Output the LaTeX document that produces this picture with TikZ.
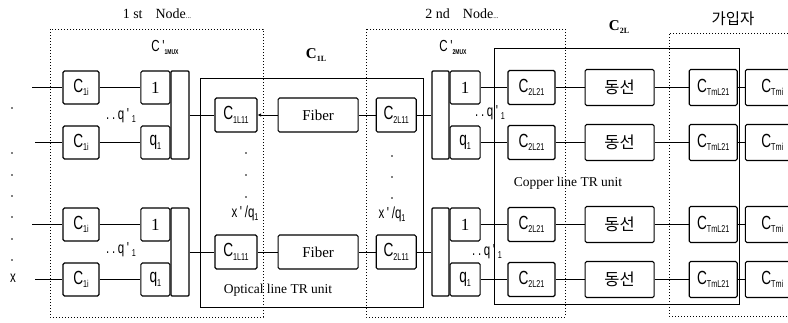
\documentclass[tikz,border=0pt]{standalone}
\usepackage{fontspec}
\setmainfont{Liberation Serif}
\newfontfamily\cfont[FakeStretch=0.72]{Liberation Sans}
\newfontfamily\krfont{Noto Sans CJK KR}
\usetikzlibrary{arrows.meta,positioning}
\newcommand{\idx}[2][10]{\raisebox{-0.35ex}{\fontsize{#1}{#1}\selectfont #2}}

\begin{document}
\begin{tikzpicture}[x=1pt,y=-1pt,
  box/.style={draw,rounded corners=1.5pt,line width=1.1pt,inner sep=0pt,minimum height=33pt,font=\fontsize{19}{19}\cfont},
  cbox/.style={box,minimum width=36pt},
  mbox/.style={box,minimum width=29pt},
  bar/.style={draw,rounded corners=1pt,line width=1.1pt,inner sep=0pt,minimum width=18pt,minimum height=88pt},
  obox/.style={box,minimum height=34pt},
  fbox/.style={box,minimum height=34pt,minimum width=80pt,font=\fontsize{15}{15}\rmfamily},
  kbox/.style={box,minimum height=34pt,minimum width=47pt},
  dbox/.style={box,minimum height=36pt,minimum width=69pt,font=\fontsize{16.5}{16.5}\krfont},
  tbox/.style={box,minimum height=36pt,minimum width=48pt},
  wire/.style={line width=1pt},
  tip/.style={wire,-{Latex[length=3.5pt,width=3.5pt]}},
  nodebox/.style={line width=0.9pt,dash pattern=on 0.9pt off 2.1pt},
  unit/.style={line width=0.9pt},
  lbl/.style={inner sep=0pt,font=\fontsize{14}{14}\rmfamily},
  slbl/.style={inner sep=0pt,font=\fontsize{16}{16}\cfont}]
\clip (0,0) rectangle (788,322);
\draw[nodebox] (50,29) rectangle (263,317);
\draw[nodebox] (366,29) rectangle (565,317);
\draw[nodebox] (800,33) -- (669,33) -- (669,316) -- (800,316);
\draw[unit] (200,78) rectangle (423,307);
\draw[unit] (494,48) rectangle (739,304);
\node[lbl] (first) at (157,14) {1 st\hspace{13pt}Node{\fontsize{7}{7}\selectfont...}};
\node[lbl] (second) at (462,14) {2 nd\hspace{13pt}Node{\fontsize{7}{7}\selectfont...}};
\node[lbl,font=\fontsize{15}{15}\bfseries] (cl1) at (316,55) {C\idx[8]{1L}};
\node[lbl,font=\fontsize{15}{15}\bfseries] (cl2) at (619,27) {C\idx[8]{2L}};
\node[lbl,font=\fontsize{15.5}{15.5}\krfont] (user) at (733,19) {가입자};
\node[slbl] (mux1) at (165,47) {C\,'\idx[7]{\textbf{1MUX}}};
\node[slbl] (mux2) at (453,47) {C\,'\idx[7]{\textbf{2MUX}}};
\node[lbl,font=\fontsize{13.5}{13.5}\rmfamily] (optical) at (278,290) {Optical line TR unit};
\node[lbl,font=\fontsize{13.5}{13.5}\rmfamily] (copper) at (568,183) {Copper line TR unit};
\coordinate (in1) at (32,87.5);
\coordinate (in2) at (35,142.5);
\coordinate (in3) at (32,224.5);
\coordinate (in4) at (35,279.5);
\node[slbl] (xin) at (13,278) {x};
\fill (12,108) circle (0.9) (12,153) circle (0.9) (12,175) circle (0.9) (12,196) circle (0.9)
  (12,217) circle (0.9) (12,239) circle (0.9) (12,260) circle (0.9);
\fill (246,153) circle (0.9) (246,175) circle (0.9) (246,197) circle (0.9);
\fill (392,156) circle (0.9) (392,177) circle (0.9) (392,198) circle (0.9);
\node[cbox] (cA1) at (81,87.5) {C\idx{1i}};
\node[cbox] (cA2) at (81,142.5) {C\idx{1i}};
\node[cbox] (cA3) at (81,224.5) {C\idx{1i}};
\node[cbox] (cA4) at (81,279.5) {C\idx{1i}};
\node[bar] (barA1) at (180,115) {};
\node[bar] (barA2) at (180,252) {};
\node[mbox,anchor=north east,font=\fontsize{17}{17}\rmfamily] (mA1) at (barA1.north west) {1};
\node[mbox,anchor=south east] (qA1) at (barA1.south west) {q\idx{1}};
\node[mbox,anchor=north east,font=\fontsize{17}{17}\rmfamily] (mA2) at (barA2.north west) {1};
\node[mbox,anchor=south east] (qA2) at (barA2.south west) {q\idx{1}};
\node[slbl] (qpA1) at (121,116) {.\,.\,q\,'\,\idx{1}};
\node[slbl] (qpA2) at (121,250) {.\,.\,q\,'\,\idx{1}};
\node[obox,minimum width=42pt] (oa1) at (236,115) {C\idx{1L11}};
\node[fbox,right=20pt of oa1] (fib1) {Fiber};
\node[obox,minimum width=40pt,right=17pt of fib1] (ob1) {C\idx{2L11}};
\node[obox,minimum width=42pt] (oa2) at (236,252) {C\idx{1L11}};
\node[fbox,right=20pt of oa2] (fib2) {Fiber};
\node[obox,minimum width=40pt,right=17pt of fib2] (ob2) {C\idx{2L11}};
\node[slbl] (xq1) at (245,213) {x\,'\,/q\idx{1}};
\node[slbl] (xq2) at (392,214) {x\,'\,/q\idx{1}};
\node[bar,minimum width=17pt] (barB1) at (440.5,115) {};
\node[bar,minimum width=17pt] (barB2) at (440.5,252) {};
\node[mbox,minimum width=30pt,anchor=north west,font=\fontsize{17}{17}\rmfamily] (mB1) at (barB1.north east) {1};
\node[mbox,minimum width=30pt,anchor=south west] (qB1) at (barB1.south east) {q\idx{1}};
\node[mbox,minimum width=30pt,anchor=north west,font=\fontsize{17}{17}\rmfamily] (mB2) at (barB2.north east) {1};
\node[mbox,minimum width=30pt,anchor=south west] (qB2) at (barB2.south east) {q\idx{1}};
\node[slbl] (qpB1) at (490,113) {.\,.\,q\,'\,\idx{1}};
\node[slbl] (qpB2) at (487,252) {.\,.\,q\,'\,\idx{1}};
\node[kbox] (cu1) at (531.5,87.5) {C\idx{2L21}};
\node[dbox,right=29pt of cu1] (dg1) {동선};
\node[tbox,right=34pt of dg1] (tl1) {C\idx{TmL21}};
\node[tbox,minimum width=54pt,right=7pt of tl1] (tm1) {C\idx{Tmi}};
\node[kbox] (cu2) at (531.5,142.5) {C\idx{2L21}};
\node[dbox,right=29pt of cu2] (dg2) {동선};
\node[tbox,right=34pt of dg2] (tl2) {C\idx{TmL21}};
\node[tbox,minimum width=54pt,right=7pt of tl2] (tm2) {C\idx{Tmi}};
\node[kbox] (cu3) at (531.5,224.5) {C\idx{2L21}};
\node[dbox,right=29pt of cu3] (dg3) {동선};
\node[tbox,right=34pt of dg3] (tl3) {C\idx{TmL21}};
\node[tbox,minimum width=54pt,right=7pt of tl3] (tm3) {C\idx{Tmi}};
\node[kbox] (cu4) at (531.5,279.5) {C\idx{2L21}};
\node[dbox,right=29pt of cu4] (dg4) {동선};
\node[tbox,right=34pt of dg4] (tl4) {C\idx{TmL21}};
\node[tbox,minimum width=54pt,right=7pt of tl4] (tm4) {C\idx{Tmi}};
\draw[wire] (in1) -- (cA1);
\draw[wire] (in2) -- (cA2);
\draw[wire] (in3) -- (cA3);
\draw[wire] (in4) -- (cA4);
\draw[wire] (cA1) -- (mA1);
\draw[wire] (cA2) -- (qA1);
\draw[wire] (cA3) -- (mA2);
\draw[wire] (cA4) -- (qA2);
\draw[wire] (barA1) -- (oa1);
\draw[wire] (barA2) -- (oa2);
\draw[tip] (fib1) -- (oa1);
\draw[wire] (fib2) -- (oa2);
\draw[wire] (fib1) -- (ob1);
\draw[wire] (fib2) -- (ob2);
\draw[wire] (ob1) -- (barB1);
\draw[wire] (ob2) -- (barB2);
\draw[wire] (mB1) -- (cu1);
\draw[wire] (qB1) -- (cu2);
\draw[wire] (mB2) -- (cu3);
\draw[wire] (qB2) -- (cu4);
\draw[wire] (cu1) -- (dg1);
\draw[wire] (cu2) -- (dg2);
\draw[wire] (cu3) -- (dg3);
\draw[wire] (cu4) -- (dg4);
\draw[wire] (dg1) -- (tl1);
\draw[wire] (dg2) -- (tl2);
\draw[wire] (dg3) -- (tl3);
\draw[wire] (dg4) -- (tl4);
\draw[wire] (tl1) -- (tm1);
\draw[wire] (tl2) -- (tm2);
\draw[wire] (tl3) -- (tm3);
\draw[wire] (tl4) -- (tm4);
\end{tikzpicture}
\end{document}
